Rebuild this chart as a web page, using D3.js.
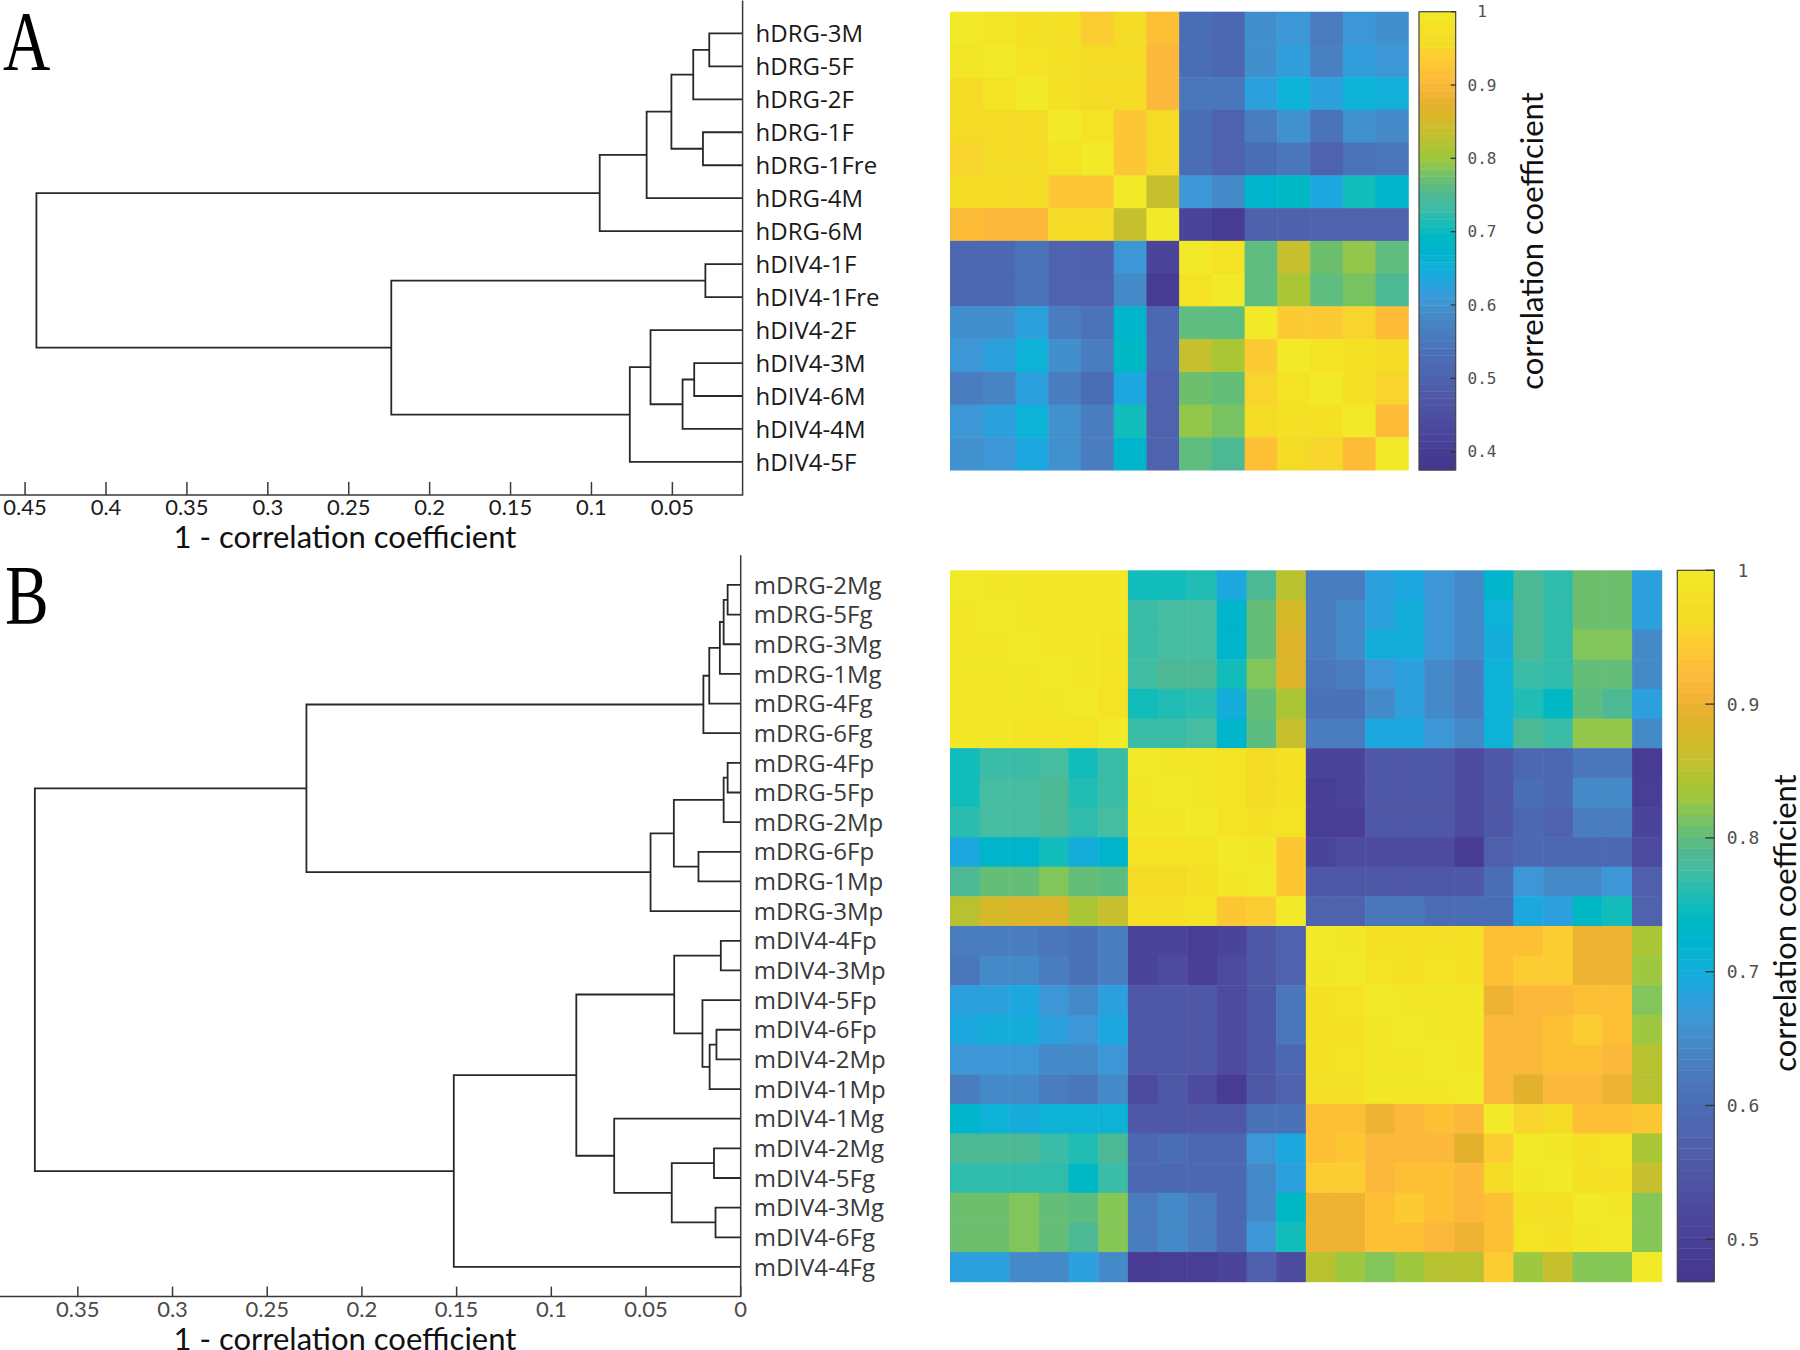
<!DOCTYPE html>
<html><head><meta charset="utf-8">
<script src="https://cdn.jsdelivr.net/npm/d3@7"></script>
<style>body{margin:0;background:#fff}</style>
</head><body>
<svg id="chart" width="1800" height="1350"></svg>
<script>
// ---------------- DATA ----------------
const labelsA = ["hDRG-3M","hDRG-5F","hDRG-2F","hDRG-1F","hDRG-1Fre","hDRG-4M","hDRG-6M",
  "hDIV4-1F","hDIV4-1Fre","hDIV4-2F","hDIV4-3M","hDIV4-6M","hDIV4-4M","hDIV4-5F"];
const matrixA = [
 [1.00,.990,.975,.975,.938,.956,.919,.531,.516,.594,.606,.559,.606,.594],
 [.990,1.00,.981,.975,.956,.956,.900,.531,.516,.594,.619,.569,.619,.606],
 [.956,.981,1.00,.975,.956,.956,.900,.550,.550,.625,.656,.625,.656,.650],
 [.956,.956,.956,1.00,.981,.928,.956,.528,.500,.563,.597,.541,.597,.588],
 [.947,.956,.956,.981,1.00,.928,.956,.528,.500,.531,.550,.500,.541,.550],
 [.956,.956,.956,.928,.928,1.00,.838,.606,.588,.675,.694,.638,.706,.675],
 [.909,.900,.900,.956,.956,.838,1.00,.425,.397,.494,.494,.500,.500,.500],
 [.516,.516,.541,.500,.494,.606,.425,1.00,.981,.763,.838,.775,.794,.763],
 [.516,.516,.541,.500,.500,.588,.397,.981,1.00,.763,.813,.763,.781,.750],
 [.594,.594,.625,.563,.541,.675,.516,.763,.763,1.00,.934,.934,.947,.909],
 [.606,.625,.656,.594,.563,.694,.516,.838,.813,.934,1.00,.981,.975,.956],
 [.563,.575,.625,.563,.531,.638,.500,.775,.769,.947,.981,1.00,.975,.947],
 [.606,.625,.656,.597,.563,.706,.500,.794,.781,.956,.975,.975,1.00,.909],
 [.597,.606,.638,.597,.563,.675,.500,.763,.750,.919,.956,.947,.909,1.00]
];
// linkage: [child1, child2, height]  (leaves 0..n-1, clusters n, n+1, ...)
const linkageA = [
 [0,1,0.0272],[14,2,0.0371],[3,4,0.0311],[15,16,0.0506],[17,5,0.0659],[18,6,0.0949],
 [7,8,0.0296],[10,11,0.0365],[21,12,0.0437],[9,22,0.0635],[23,13,0.0763],
 [20,24,0.2237],[19,25,0.443]
];
const xTicksA = [0.45,0.4,0.35,0.3,0.25,0.2,0.15,0.1,0.05];
const xTickLabelsA = ["0.45","0.4","0.35","0.3","0.25","0.2","0.15","0.1","0.05"];
const xDomainA = [0.4655, 0.0066];
const climA = [0.375, 1];
const cbarTicksA = [0.4,0.5,0.6,0.7,0.8,0.9,1];
const cbarTickLabelsA = ["0.4","0.5","0.6","0.7","0.8","0.9","1"];

const labelsB = ["mDRG-2Mg","mDRG-5Fg","mDRG-3Mg","mDRG-1Mg","mDRG-4Fg","mDRG-6Fg",
  "mDRG-4Fp","mDRG-5Fp","mDRG-2Mp","mDRG-6Fp","mDRG-1Mp","mDRG-3Mp",
  "mDIV4-4Fp","mDIV4-3Mp","mDIV4-5Fp","mDIV4-6Fp","mDIV4-2Mp","mDIV4-1Mp",
  "mDIV4-1Mg","mDIV4-2Mg","mDIV4-5Fg","mDIV4-3Mg","mDIV4-6Fg","mDIV4-4Fg"];
const matrixB = [
 [1,.995,.995,.995,.995,.995, .750,.750,.758,.692,.787,.849, .628,.628,.681,.692,.665,.649,.724,.787,.766,.809,.809,.681],
 [.995,1,.995,.995,.995,.995, .771,.777,.777,.724,.803,.875, .628,.649,.681,.700,.665,.649,.708,.787,.766,.809,.809,.681],
 [.995,.995,1,.995,.995,.990, .771,.777,.777,.724,.803,.883, .628,.649,.700,.700,.665,.649,.700,.787,.766,.817,.817,.649],
 [.995,.995,.995,1,.995,.990, .774,.787,.787,.750,.817,.883, .617,.628,.665,.681,.649,.628,.708,.771,.766,.803,.803,.649],
 [.995,.995,.995,.995,1,.984, .750,.758,.763,.700,.803,.841, .609,.609,.649,.681,.649,.628,.708,.758,.739,.798,.787,.681],
 [.995,.995,.990,.990,.984,1, .771,.771,.777,.724,.798,.862, .628,.628,.692,.692,.665,.649,.708,.787,.771,.825,.825,.649],
 [.750,.771,.771,.777,.750,.771, 1,.995,.995,.984,.963,.979, .511,.511,.553,.553,.553,.524,.553,.588,.588,.617,.617,.487],
 [.750,.777,.777,.787,.758,.771, .995,1,.995,.984,.963,.979, .495,.511,.553,.553,.553,.524,.553,.601,.588,.649,.649,.495],
 [.763,.777,.777,.787,.766,.777, .995,.995,1,.984,.979,.984, .495,.495,.553,.553,.553,.524,.553,.588,.575,.628,.628,.511],
 [.692,.724,.724,.750,.700,.724, .984,.984,.984,1,.995,.939, .511,.524,.524,.524,.524,.487,.569,.588,.588,.588,.588,.524],
 [.787,.803,.803,.817,.803,.798, .963,.963,.979,.995,1,.939, .553,.553,.553,.553,.553,.553,.601,.665,.649,.649,.665,.569],
 [.849,.875,.883,.883,.841,.862, .979,.979,.984,.939,.947,1, .575,.575,.617,.617,.599,.599,.601,.692,.681,.739,.750,.575],
 [.628,.628,.628,.617,.609,.628, .511,.511,.495,.511,.553,.575, 1,.995,.979,.979,.979,.979, .931,.931,.947,.902,.902,.841],
 [.617,.649,.649,.628,.609,.628, .511,.524,.495,.524,.553,.575, .995,1,.984,.979,.984,.979, .931,.947,.947,.902,.902,.830],
 [.681,.681,.692,.665,.649,.681, .553,.553,.553,.524,.553,.617, .979,.984,1,.995,.995,.995, .902,.915,.915,.928,.928,.817],
 [.692,.700,.700,.681,.665,.692, .553,.553,.553,.524,.553,.617, .979,.979,.995,1,.995,.995, .915,.915,.931,.947,.931,.830],
 [.665,.665,.665,.649,.649,.665, .553,.553,.553,.524,.553,.588, .979,.984,.995,.995,1,.995, .915,.915,.931,.931,.915,.849],
 [.628,.649,.649,.628,.617,.649, .524,.553,.524,.487,.553,.575, .979,.979,.995,.995,.995,1, .915,.891,.915,.915,.902,.849],
 [.724,.708,.697,.708,.708,.708, .553,.553,.553,.553,.609,.609, .931,.931,.902,.915,.931,.915, 1,.955,.963,.931,.931,.939],
 [.787,.787,.787,.771,.758,.787, .588,.601,.588,.588,.665,.692, .931,.939,.915,.915,.915,.891, .947,1,.995,.979,.984,.841],
 [.766,.766,.766,.766,.739,.771, .588,.588,.588,.588,.649,.681, .947,.947,.915,.931,.931,.915, .963,.995,1,.979,.979,.862],
 [.809,.809,.817,.803,.798,.819, .628,.649,.628,.588,.649,.739, .902,.902,.931,.944,.931,.915, .931,.979,.979,1,.995,.819],
 [.809,.809,.817,.803,.787,.819, .628,.649,.628,.588,.665,.750, .902,.902,.931,.931,.915,.902, .931,.984,.979,.995,1,.819],
 [.681,.681,.649,.649,.681,.649, .487,.495,.495,.511,.569,.524, .849,.830,.817,.830,.849,.849, .947,.830,.862,.819,.819,1]
];
const linkageB = [
 [0,1,0.0069],[24,2,0.0090],[25,3,0.0110],[26,4,0.0166],[27,5,0.0197],
 [6,7,0.0069],[29,8,0.0090],[9,10,0.0223],[30,31,0.0353],[32,11,0.0476],
 [28,33,0.2293],
 [12,13,0.0105],[15,16,0.0128],[36,17,0.0164],[14,37,0.0202],[35,38,0.0351],
 [19,20,0.0141],[21,22,0.0133],[40,41,0.0364],[18,42,0.0668],[39,43,0.0868],
 [44,23,0.1515],[34,45,0.3727]
];
const xTicksB = [0.35,0.3,0.25,0.2,0.15,0.1,0.05,0];
const xTickLabelsB = ["0.35","0.3","0.25","0.2","0.15","0.1","0.05","0"];
const xDomainB = [0.3911, 0];
const climB = [0.4683, 1];
const cbarTicksB = [0.5,0.6,0.7,0.8,0.9,1];
const cbarTickLabelsB = ["0.5","0.6","0.7","0.8","0.9","1"];

const axisTitle = "1 - correlation coefficient";
const cbarTitle = "correlation coefficient";

// colormap (parula-like, as printed)
const cmapStops = [0,.05,.10,.15,.20,.25,.30,.34,.37,.40,.42,.45,.48,.51,.53,.56,.58,.60,.62,.64,.66,.68,.70,.72,.74,.77,.80,.84,.87,.90,.93,.96,1];
const cmapColors = ["#44348f","#483e96","#4c4a9e","#4f56a6","#4f62ae","#4a6eb6","#4a7dc0","#458ac8","#3d97d6","#2ba0dc","#1ca8de","#0db2d6","#00b4cc","#00b8c4","#12bcbb","#30bcac","#46bca0","#4cb894","#5dbd80","#6dbf6e","#86c656","#9ec840","#aac634","#bcc130","#c6c02f","#d8b828","#e6b02e","#fbb83a","#fdc035","#fccd32","#f4dc26","#f4e024","#f2ea28"];
const cmap = d3.scaleLinear().domain(cmapStops).range(cmapColors).interpolate(d3.interpolateRgb).clamp(true);

// ---------------- DRAW ----------------
const svg = d3.select("#chart");
svg.append("rect").attr("width",1800).attr("height",1350).attr("fill","#fff");

function panel(cfg) {
  const g = svg.append("g");
  const n = cfg.labels.length;
  const x = d3.scaleLinear().domain(cfg.xDomain).range([0, cfg.axisX]).clamp(true);
  const y = d3.scaleLinear().domain([0, n + 1]).range([cfg.top, cfg.bottom]);

  // dendrogram
  const pos = d3.range(n).map(i => ({h: 0, y: i + 1}));
  cfg.linkage.forEach(([a, b, h]) => {
    const A = pos[a], B = pos[b];
    g.append("path")
      .attr("d", `M${x(A.h)},${y(A.y)}H${x(h)}V${y(B.y)}H${x(B.h)}`)
      .attr("fill", "none").attr("stroke", "#2b2627").attr("stroke-width", 1.8);
    pos.push({h, y: (A.y + B.y) / 2});
  });

  // axes lines
  g.append("path").attr("d", `M0,${cfg.bottom}H${cfg.axisX}V${cfg.top}`)
    .attr("fill","none").attr("stroke","#3a3a3a").attr("stroke-width",1.5);
  cfg.xTicks.forEach((t, i) => {
    g.append("line").attr("x1", x(t)).attr("x2", x(t))
      .attr("y1", cfg.bottom).attr("y2", cfg.bottom - cfg.tickLen)
      .attr("stroke","#3a3a3a").attr("stroke-width",1.5);
    g.append("text").attr("x", x(t)).attr("y", cfg.bottom + 20)
      .attr("text-anchor","middle").attr("font-family","Lato, 'Open Sans', sans-serif")
      .attr("font-size", 22).attr("fill", cfg.tickColor).text(cfg.xTickLabels[i]);
  });
  g.append("text").attr("x", 345).attr("y", cfg.bottom + 53)
    .attr("text-anchor","middle").attr("font-family","Lato, 'Open Sans', sans-serif")
    .attr("font-size", 31).attr("fill","#111").text(axisTitle);

  // leaf labels
  cfg.labels.forEach((lab, i) => {
    g.append("text").attr("x", cfg.axisX + 13).attr("y", y(i + 1)).attr("dy","0.36em")
      .attr("font-family","'Open Sans', 'Noto Sans', sans-serif").attr("font-size", 24)
      .attr("fill", cfg.labelColor).text(lab);
  });

  // heatmap
  const bx = d3.scaleBand().domain(cfg.labels).range([cfg.hmX0, cfg.hmX1]);
  const by = d3.scaleBand().domain(cfg.labels).range([cfg.hmY0, cfg.hmY1]);
  const tOf = v => (v - cfg.clim[0]) / (cfg.clim[1] - cfg.clim[0]);
  cfg.matrix.forEach((row, r) => row.forEach((v, c) => {
    g.append("rect").attr("x", bx(cfg.labels[c])).attr("y", by(cfg.labels[r]))
      .attr("width", bx.bandwidth() + 0.5).attr("height", by.bandwidth() + 0.5)
      .attr("fill", cmap(tOf(v)));
  }));

  // colorbar
  const cy = d3.scaleLinear().domain(cfg.clim).range([cfg.hmY1, cfg.hmY0]);
  const nb = 64;
  d3.range(nb).forEach(i => {
    const v0 = cfg.clim[0] + (cfg.clim[1] - cfg.clim[0]) * i / nb;
    const v1 = cfg.clim[0] + (cfg.clim[1] - cfg.clim[0]) * (i + 1) / nb;
    g.append("rect").attr("x", cfg.cbX0).attr("width", cfg.cbX1 - cfg.cbX0)
      .attr("y", cy(v1)).attr("height", cy(v0) - cy(v1) + 0.4)
      .attr("fill", cmap((i + 0.5) / nb));
  });
  g.append("rect").attr("x", cfg.cbX0).attr("y", cfg.hmY0)
    .attr("width", cfg.cbX1 - cfg.cbX0).attr("height", cfg.hmY1 - cfg.hmY0)
    .attr("fill","none").attr("stroke","#444").attr("stroke-width",1.2);
  cfg.cbTicks.forEach((t, i) => {
    g.append("line").attr("x1", cfg.cbX1 - cfg.cbTickLen).attr("x2", cfg.cbX1)
      .attr("y1", cy(t)).attr("y2", cy(t)).attr("stroke","#333").attr("stroke-width",1.3);
    g.append("text").attr("x", cfg.cbLabelX).attr("y", cy(t)).attr("dy","0.36em")
      .attr("text-anchor","middle").attr("font-family","'DejaVu Sans Mono', monospace")
      .attr("font-size", cfg.cbFont).attr("fill","#505050").text(cfg.cbTickLabels[i]);
  });
  g.append("text").attr("transform", `translate(${cfg.cbTitleX},${cfg.cbTitleY}) rotate(-90)`)
    .attr("text-anchor","middle").attr("font-family","Lato, 'Open Sans', sans-serif")
    .attr("font-size", 31).attr("fill","#111").text(cbarTitle);

  // panel letter
  g.append("text").attr("transform", `translate(${cfg.letterX},${cfg.letterY}) scale(0.78,1)`)
    .attr("font-family","'Liberation Serif', 'DejaVu Serif', serif").attr("font-size", 84)
    .attr("fill","#000").text(cfg.letter);
}

panel({
  letter: "A", letterX: 3, letterY: 70,
  labels: labelsA, matrix: matrixA, linkage: linkageA,
  xDomain: xDomainA, xTicks: xTicksA, xTickLabels: xTickLabelsA,
  axisX: 742.6, top: 0.4, bottom: 494.9, tickLen: 13,
  tickColor: "#1a1a1a", labelColor: "#1a1a1a",
  hmX0: 950, hmX1: 1408.3, hmY0: 11.7, hmY1: 470,
  clim: climA, cbX0: 1419, cbX1: 1455.7, cbTicks: cbarTicksA, cbTickLabels: cbarTickLabelsA,
  cbTickLen: 5, cbLabelX: 1482, cbFont: 16, cbTitleX: 1543, cbTitleY: 241
});

panel({
  letter: "B", letterX: 5, letterY: 624,
  labels: labelsB, matrix: matrixB, linkage: linkageB,
  xDomain: xDomainB, xTicks: xTicksB, xTickLabels: xTickLabelsB,
  axisX: 740.7, top: 555.3, bottom: 1296.6, tickLen: 10,
  tickColor: "#4a4a4a", labelColor: "#3a3a3a",
  hmX0: 950, hmX1: 1661.7, hmY0: 570.3, hmY1: 1281.7,
  clim: climB, cbX0: 1677.3, cbX1: 1714.3, cbTicks: cbarTicksB, cbTickLabels: cbarTickLabelsB,
  cbTickLen: 9, cbLabelX: 1743, cbFont: 18, cbTitleX: 1796, cbTitleY: 923
});
</script>
</body></html>
